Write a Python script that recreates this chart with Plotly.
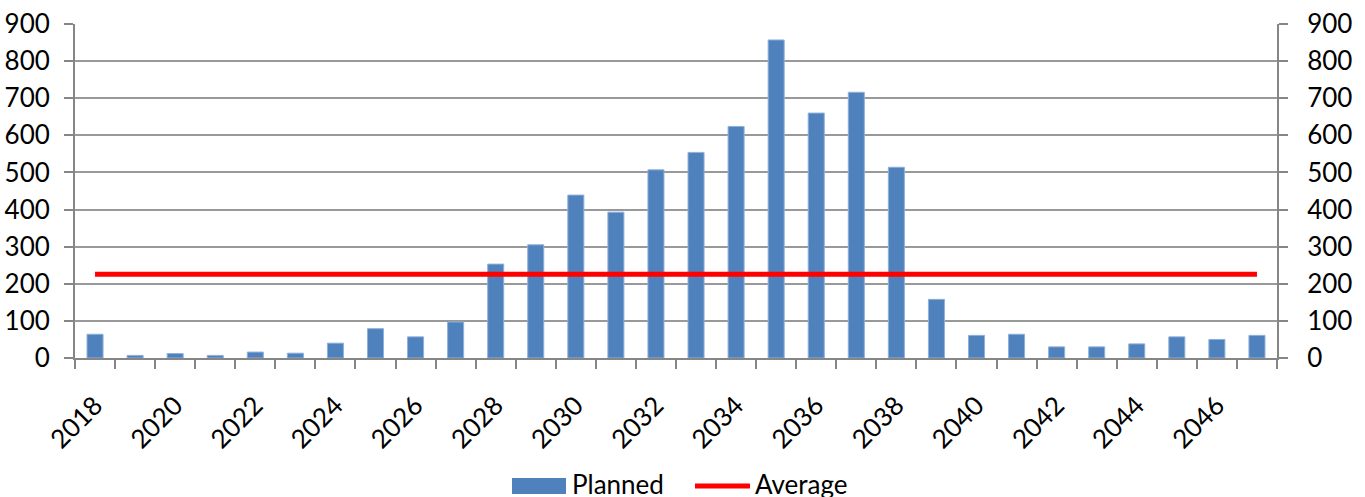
import plotly.graph_objects as go

# Planned volumes per year
years = list(range(2018, 2048))
planned = [64, 7, 12, 7, 16, 13, 40, 79, 57, 97,
           253, 305, 439, 393, 507, 554, 624, 857, 660, 716,
           514, 158, 61, 64, 30, 30, 38, 57, 50, 61]
average_value = sum(planned) / len(planned)
average = [average_value] * len(years)

label_years = list(range(2018, 2047, 2))
boundaries = [y - 0.5 for y in years] + [years[-1] + 0.5]
y_ticks = list(range(0, 901, 100))

BAR_BLUE = "#4f81bd"
AXIS_GREY = "#868686"
FONT = "Lato"
FONT_SIZE = 26

fig = go.Figure()
fig.add_trace(go.Bar(
    x=years, y=planned, name="Planned", width=0.4,
    marker=dict(color=BAR_BLUE, line=dict(color="#8eb0da", width=1)),
    showlegend=False,
))
fig.add_trace(go.Scatter(
    x=years, y=average, name="Average", mode="lines", yaxis="y2",
    line=dict(color="#ff0000", width=5), showlegend=False,
))

fig.update_layout(
    width=1365, height=497,
    margin=dict(l=75, r=88, t=24, b=139),
    paper_bgcolor="white", plot_bgcolor="white",
    font=dict(family=FONT, size=FONT_SIZE, color="black"),
    xaxis=dict(
        range=[years[0] - 0.5, years[-1] + 0.5], automargin=False,
        tickmode="array", tickvals=label_years,
        ticktext=[str(y) for y in label_years],
        tickangle=-45, ticks="", showgrid=False, zeroline=False,
        showline=True, linecolor=AXIS_GREY, linewidth=2,
        ticklabelstandoff=20,
        minor=dict(tickmode="array", tickvals=boundaries, ticks="outside",
                   ticklen=9, tickwidth=2, tickcolor=AXIS_GREY, showgrid=False),
    ),
    yaxis=dict(
        range=[0, 900], tickmode="array", tickvals=y_ticks, automargin=False,
        showgrid=True, gridcolor="#999999", gridwidth=2,
        zeroline=False, showline=True, linecolor=AXIS_GREY, linewidth=2,
        ticks="outside", ticklen=9, tickwidth=2, tickcolor=AXIS_GREY,
        ticklabelstandoff=9,
    ),
    yaxis2=dict(
        range=[0, 900], tickmode="array", tickvals=y_ticks, automargin=False,
        overlaying="y", side="right", showgrid=False, zeroline=False,
        showline=True, linecolor=AXIS_GREY, linewidth=2,
        ticks="outside", ticklen=9, tickwidth=2, tickcolor=AXIS_GREY,
        ticklabelstandoff=14,
    ),
    showlegend=False,
)

# Legend drawn below the axis labels
fig.add_shape(type="rect", xref="paper", yref="paper",
              x0=(512 - 75) / 1202, x1=(566 - 75) / 1202,
              y0=(358 - 494) / 334, y1=(358 - 478) / 334,
              fillcolor=BAR_BLUE, line=dict(width=0))
fig.add_shape(type="line", xref="paper", yref="paper",
              x0=(695 - 75) / 1202, x1=(750 - 75) / 1202,
              y0=(358 - 486) / 334, y1=(358 - 486) / 334,
              line=dict(color="#ff0000", width=5))
fig.add_annotation(text="Planned", xref="paper", yref="paper",
                   x=(570 - 75) / 1202, y=(358 - 484) / 334,
                   xanchor="left", yanchor="middle", showarrow=False,
                   font=dict(family=FONT, size=FONT_SIZE, color="black"))
fig.add_annotation(text="Average", xref="paper", yref="paper",
                   x=(753 - 75) / 1202, y=(358 - 484) / 334,
                   xanchor="left", yanchor="middle", showarrow=False,
                   font=dict(family=FONT, size=FONT_SIZE, color="black"))

fig.write_html("out.html")
